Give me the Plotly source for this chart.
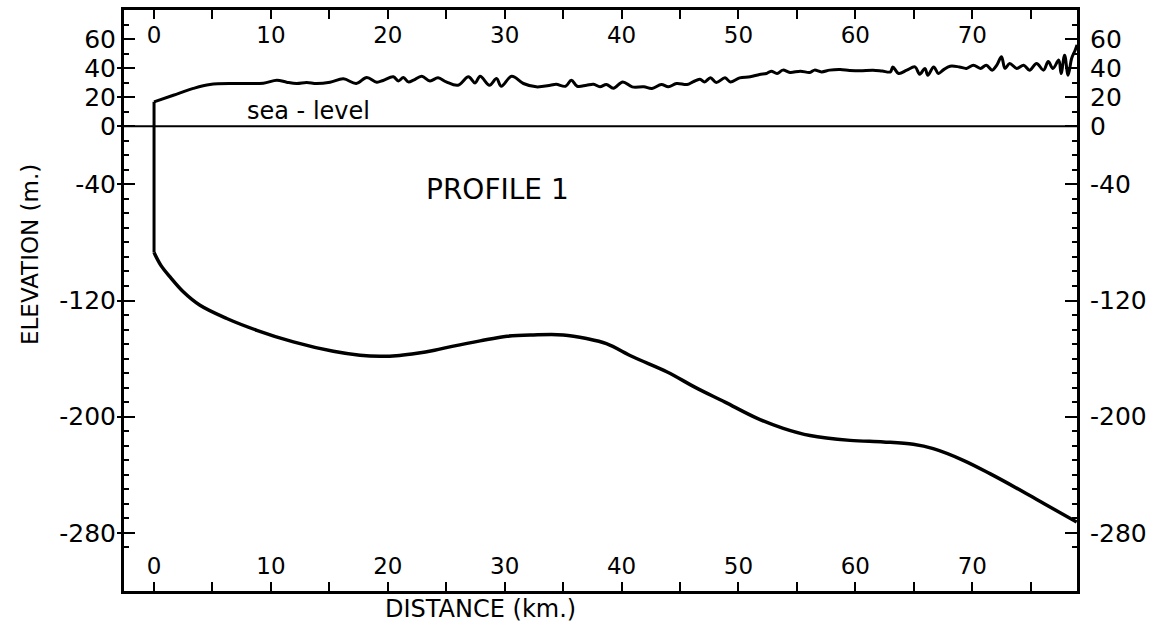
import plotly.graph_objects as go

# ---- data (km, m) ----
cliff_x = [0, 0]
cliff_y = [-87, 16.8]

surface_x = [0, 1.65, 3.36, 4.79, 7.07, 9.35, 10.5, 11.35, 12.2, 13.06, 13.9, 15.06, 16.2, 17.3,
             18.2, 19.05, 19.6, 20.47, 20.9, 21.33, 21.75, 22.2, 22.9, 23.6, 24.3, 25.0, 26.0,
             26.9, 27.46, 27.9, 28.7, 29.3, 29.7, 30.6, 31.6, 32.7, 33.9, 34.4, 35.2, 35.7, 36.2,
             37.0, 37.6, 38.15, 38.7, 39.3, 40.1, 40.9, 41.9, 42.6, 43.4, 44.0, 44.7, 45.6, 46.1,
             46.7, 47.1, 47.6, 48.1, 48.85, 49.3, 50.1, 51.0, 51.8, 52.4, 52.8, 53.3, 53.8, 54.4,
             55.3, 56.1, 56.5, 57.1, 57.8, 58.7, 59.5, 60.4, 61.5, 62.3, 63.0, 63.2, 63.7, 64.4,
             65.1, 65.5, 65.95, 66.2, 66.7, 67.1, 67.5, 68.1, 68.9, 69.5, 70.1, 70.7, 71.2, 71.7,
             72.1, 72.5, 72.8, 73.2, 73.8, 74.4, 74.9, 75.5, 76.1, 76.5, 76.9, 77.4, 77.6, 77.9,
             78.2, 78.5, 78.8, 78.96]
surface_y = [16.8, 21.3, 26.0, 28.7, 29.4, 29.6, 31.7, 30.3, 29.4, 30.1, 29.4, 30.3, 32.6, 29.4,
             33.5, 30.3, 31.5, 34.0, 31.2, 33.5, 30.5, 31.7, 34.4, 31.2, 33.3, 30.5, 28.2,
             34.0, 29.8, 34.4, 28.2, 32.8, 27.5, 34.4, 29.4, 27.1, 28.2, 28.9, 27.5, 31.7, 27.5,
             28.2, 28.9, 27.1, 28.7, 26.2, 30.5, 27.1, 27.1, 26.0, 28.7, 27.1, 29.4, 28.7, 30.5,
             32.4, 30.5, 33.3, 30.1, 33.3, 30.5, 33.3, 34.0, 35.6, 36.3, 37.9, 36.3, 38.6, 37.0,
             37.9, 37.0, 38.6, 37.4, 38.6, 39.0, 38.4, 38.1, 38.6, 38.0, 37.4, 40.8, 36.3, 38.6,
             40.8, 35.8, 39.8, 35.1, 40.8, 36.3, 38.6, 41.3, 40.8, 39.8, 42.0, 39.8, 42.0, 38.6,
             42.0, 47.8, 39.8, 43.2, 39.8, 42.0, 38.6, 43.2, 38.6, 44.5, 39.8, 45.5, 36.3, 48.9,
             35.1, 46.6, 52.3, 56.0]

bottom_x = [0, 0.6, 1.37, 2.5, 3.93, 6.22, 8.79, 11.92, 15.34, 17.62, 19.33, 21.0, 22.5, 24.0,
            25.5, 27.9, 30.2, 32.45, 35.0, 37.0, 38.7, 41.0, 43.9, 46.3, 48.85, 51.56, 53.83,
            56.12, 59.54, 62.39, 64.95, 66.66, 69.23, 71.51, 74.65, 76.65, 78.93]
bottom_y = [-87, -96, -103.8, -114, -123.3, -132.4, -140.5, -148.5, -155, -157.7, -158.4, -157.8,
            -156.3, -154.2, -151.6, -147.8, -144.6, -143.7, -143.7, -146.2, -149.7, -158.9,
            -169.2, -179.8, -190.0, -201.0, -208.0, -213.0, -216.3, -217.4, -219.0, -222.0,
            -230.0, -239.2, -253.0, -262.2, -272.5]

sea_level = 0
x_ticks = [0, 10, 20, 30, 40, 50, 60, 70]
y_ticks = [60, 40, 20, 0, -40, -120, -200, -280]
x_range = [-2.57, 78.96]
y_range = [-320, 80]

FONT = "DejaVu Sans"
BLACK = "black"

fig = go.Figure()
# sea-level line on the right axis, cliff on the top axis (same scales) so those axes are rendered
fig.add_trace(go.Scatter(x=x_range, y=[sea_level, sea_level], xaxis="x", yaxis="y2", mode="lines",
                         line=dict(color=BLACK, width=2), showlegend=False, hoverinfo="skip"))
fig.add_trace(go.Scatter(x=cliff_x, y=cliff_y, xaxis="x2", yaxis="y3", mode="lines",
                         line=dict(color=BLACK, width=3), showlegend=False, hoverinfo="skip"))
fig.add_trace(go.Scatter(x=surface_x, y=surface_y, mode="lines",
                         line=dict(color=BLACK, width=3, shape="spline", smoothing=1.0),
                         showlegend=False, hoverinfo="skip"))
fig.add_trace(go.Scatter(x=bottom_x, y=bottom_y, mode="lines",
                         line=dict(color=BLACK, width=3.5, shape="spline", smoothing=1.0),
                         showlegend=False, hoverinfo="skip"))

xcommon = dict(range=x_range, tickmode="array", tickvals=x_ticks, ticktext=[str(v) for v in x_ticks],
               ticks="inside", ticklen=9, tickwidth=2, tickcolor=BLACK,
               minor=dict(dtick=5, tick0=0, ticks="inside", ticklen=9, tickwidth=2, tickcolor=BLACK),
               ticklabelposition="inside", showline=True, linewidth=3, linecolor=BLACK,
               showgrid=False, zeroline=False, tickfont=dict(family=FONT, size=23, color=BLACK))
ycommon = dict(range=y_range, tickmode="array", tickvals=y_ticks, ticktext=[str(v) for v in y_ticks],
               tickwidth=2, tickcolor=BLACK, showline=True, linewidth=3, linecolor=BLACK,
               showgrid=False, zeroline=False, ticklabeloverflow="allow",
               tickfont=dict(family=FONT, size=25, color=BLACK))
yminor = dict(dtick=10, tick0=0, ticks="inside", ticklen=5, tickwidth=2, tickcolor=BLACK)

fig.update_layout(
    width=1165, height=627,
    margin=dict(l=124, r=88, t=10, b=36),
    paper_bgcolor="white", plot_bgcolor="white",
    showlegend=False,
    xaxis=dict(**xcommon, side="bottom", anchor="y", ticklabelstandoff=5),
    xaxis2=dict(**xcommon, side="top", anchor="y3", overlaying="x", ticklabelstandoff=10),
    yaxis=dict(**ycommon, side="left", anchor="x", ticks="inside", ticklen=11, ticklabelstandoff=0,
               minor=yminor),
    yaxis2=dict(**ycommon, side="right", anchor="x", overlaying="y", ticks="inside",
                ticklen=12, ticklabelstandoff=5, minor=yminor),
    yaxis3=dict(range=y_range, tickmode="array", tickvals=y_ticks, showticklabels=False,
                side="left", anchor="x2", overlaying="y", ticks="outside", ticklen=6,
                tickwidth=2, tickcolor=BLACK, showline=False, showgrid=False, zeroline=False),
)

fig.add_annotation(x=29.4, y=-43.4, xref="x", yref="y", text="PROFILE 1", showarrow=False,
                   font=dict(family=FONT, size=28, color=BLACK))
fig.add_annotation(x=13.2, y=sea_level, xref="x", yref="y", text="sea - level", showarrow=False,
                   yanchor="bottom", yshift=-1, font=dict(family=FONT, size=24, color=BLACK))
fig.add_annotation(x=(30 - 124) / 953, y=(591 - 255) / 581, xref="paper", yref="paper",
                   xanchor="center", yanchor="middle",
                   text="ELEVATION (m.)", textangle=-90, showarrow=False,
                   font=dict(family=FONT, size=23, color=BLACK))
fig.add_annotation(x=(480 - 124) / 953, y=(591 - 609) / 581, xref="paper", yref="paper",
                   xanchor="center", yanchor="middle",
                   text="DISTANCE (km.)", showarrow=False,
                   font=dict(family=FONT, size=24, color=BLACK))

fig.write_html("out.html")
